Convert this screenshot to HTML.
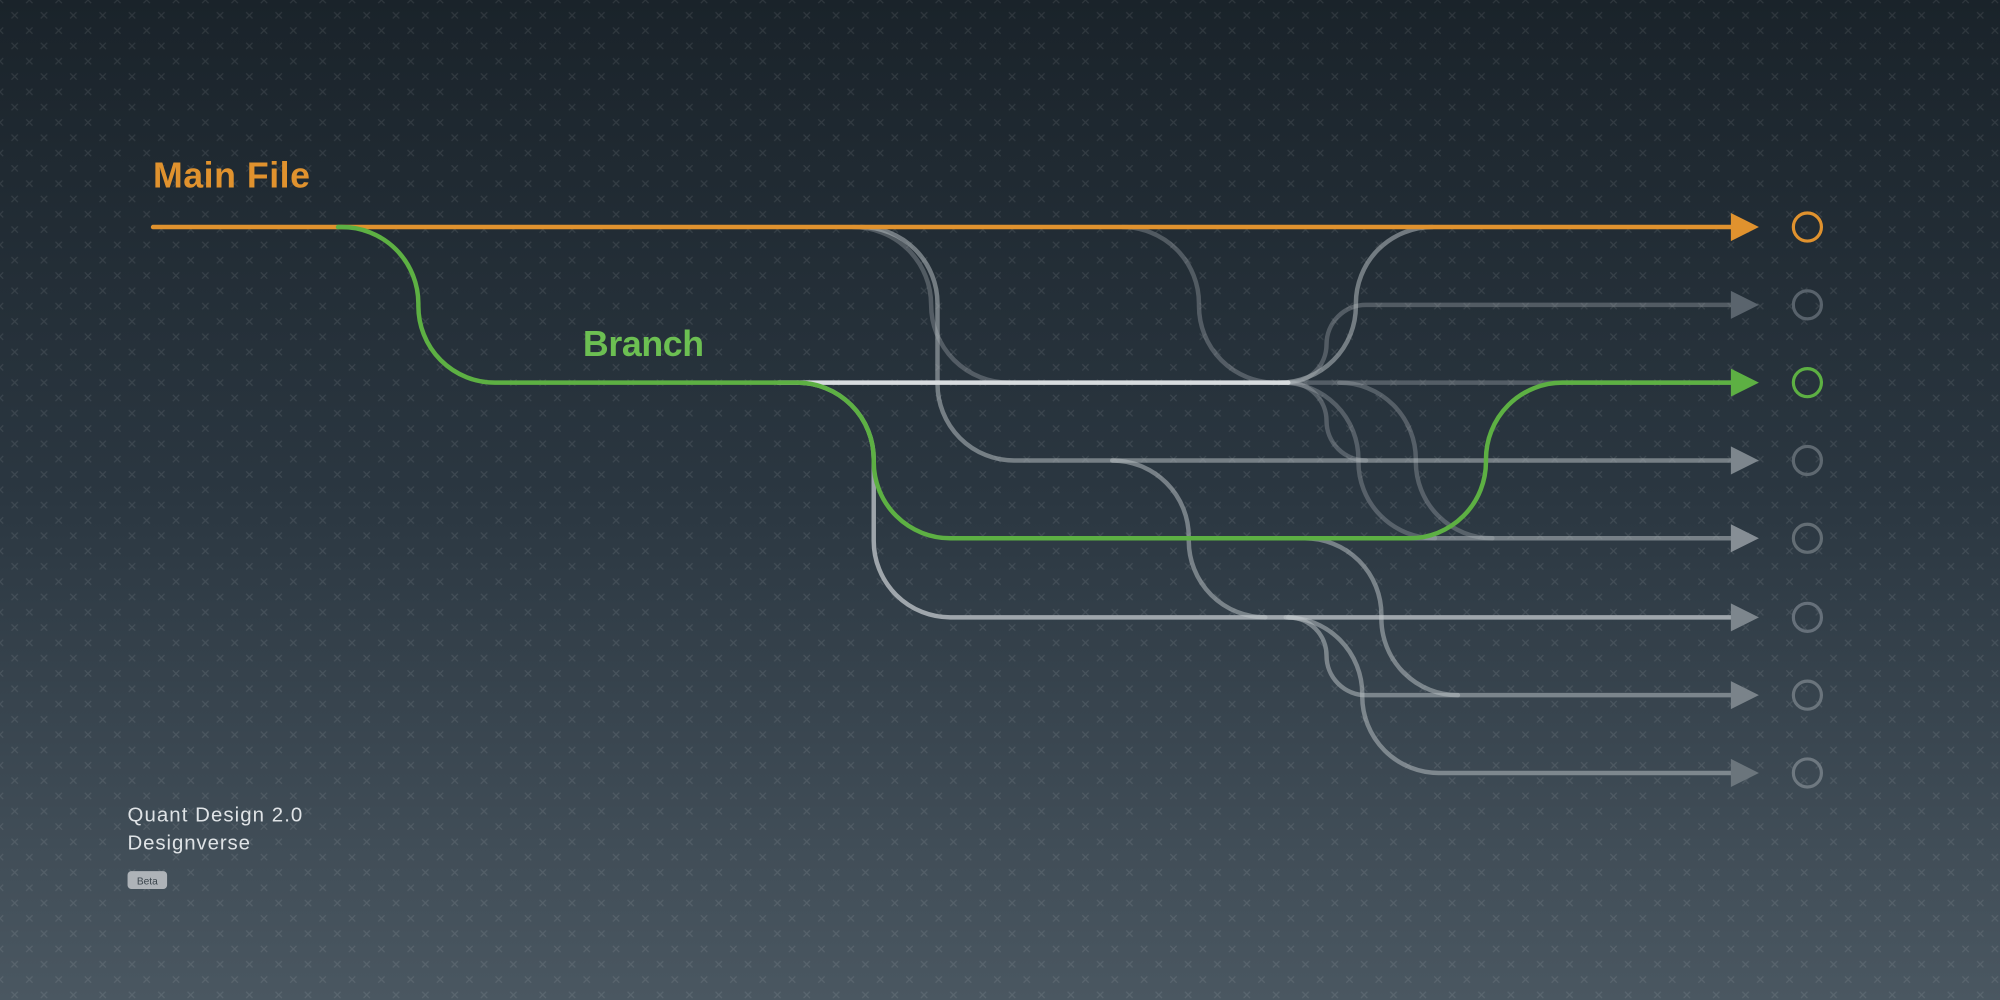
<!DOCTYPE html>
<html><head><meta charset="utf-8"><style>
html,body{margin:0;padding:0;width:2000px;height:1000px;overflow:hidden}
svg{display:block}
</style></head><body>
<svg width="2000" height="1000" viewBox="0 0 1568 784" xmlns="http://www.w3.org/2000/svg">
<defs>
<linearGradient id="bg" x1="0" y1="0" x2="0" y2="1">
<stop offset="0" stop-color="#1a232a"/><stop offset="0.5" stop-color="#2b3741"/><stop offset="1" stop-color="#4a5761"/>
</linearGradient>
<pattern id="px" width="23" height="24" patternUnits="userSpaceOnUse">
<g stroke="#ffffff" stroke-opacity="0.09" stroke-width="1">
<path d="M-2.5,-2.5 L2.5,2.5 M2.5,-2.5 L-2.5,2.5"/><path d="M9,9.5 L14,14.5 M14,9.5 L9,14.5"/>
<path d="M20.5,-2.5 L25.5,2.5 M25.5,-2.5 L20.5,2.5"/><path d="M-2.5,21.5 L2.5,26.5 M2.5,21.5 L-2.5,26.5"/><path d="M20.5,21.5 L25.5,26.5 M25.5,21.5 L20.5,26.5"/>
</g></pattern>
</defs>
<rect width="1568" height="784" fill="url(#bg)"/>
<rect width="1568" height="784" fill="url(#px)"/>
<g fill="none" stroke-width="3.5" stroke-linecap="round">
<g stroke="#aab0b5" stroke-opacity="0.35">
<path d="M669,178 A61 61 0 0 1 730,239 A61 61 0 0 0 791,300"/>
<path d="M880,178 A60 60 0 0 1 940,238 V240 A60 60 0 0 0 1000,300"/>
<path d="M1010,300 A30 30 0 0 0 1040,270 A31 31 0 0 1 1071,239 H1358"/>
<path d="M1010,300 L1358,300"/>
<path d="M1010,300 A30 30 0 0 1 1040,330 A31 31 0 0 0 1071,361"/>
<path d="M1005,300 A60 60 0 0 1 1065,360 V362 A60 60 0 0 0 1125,422"/>
<path d="M1050,300 A60 60 0 0 1 1110,360 V362 A60 60 0 0 0 1170,422"/>
</g>
<g stroke="#b5bbc0" stroke-opacity="0.55">
<path d="M675,178 A60 60 0 0 1 735,238 V301 A60 60 0 0 0 795,361 H1358"/>
<path d="M872,361 A60 60 0 0 1 932,421 V424 A60 60 0 0 0 992,484"/>
<path d="M1003,300 A60 60 0 0 0 1063,240 V238 A60 60 0 0 1 1123,178"/>
<path d="M1023,422 A60 60 0 0 1 1083,482 V485 A60 60 0 0 0 1143,545"/>
<path d="M1010,484 A30 30 0 0 1 1040,514 A31 31 0 0 0 1071,545 H1358"/>
<path d="M1008,484 A60 60 0 0 1 1068,544 V546 A60 60 0 0 0 1128,606 H1358"/>
<path d="M1100,422 L1358,422"/>
</g>
<path d="M625,300 A60 60 0 0 1 685,360 V424 A60 60 0 0 0 745,484 H1358" stroke="#c4c9cd" stroke-opacity="0.75"/>
<path d="M610,300 L1010,300" stroke="#d8dcdf"/>
<path d="M120,178 L1358,178" stroke="#e0922e"/>
<path d="M265,178 H268 A60 60 0 0 1 328,238 V240 A60 60 0 0 0 388,300 H625 A60 60 0 0 1 685,360 V362 A60 60 0 0 0 745,422 H1105 A60 60 0 0 0 1165,362 V360 A60 60 0 0 1 1225,300 H1358" stroke="#5db043"/>
</g>
<g>
<path d="M1357,167 L1379,178 L1357,189Z" fill="#e0922e"/>
<path d="M1357,228 L1379,239 L1357,250Z" fill="#5a646d"/>
<path d="M1357,289 L1379,300 L1357,311Z" fill="#5db043"/>
<path d="M1357,350 L1379,361 L1357,372Z" fill="#7d868d"/>
<path d="M1357,411 L1379,422 L1357,433Z" fill="#868e95"/>
<path d="M1357,473 L1379,484 L1357,495Z" fill="#7d868d"/>
<path d="M1357,534 L1379,545 L1357,556Z" fill="#7a838a"/>
<path d="M1357,595 L1379,606 L1357,617Z" fill="#6b757c"/>
</g>
<g fill="none" stroke-width="2.5">
<circle cx="1417" cy="178" r="11" stroke="#e0922e"/>
<circle cx="1417" cy="239" r="11" stroke="#58626b"/>
<circle cx="1417" cy="300" r="11" stroke="#5db043"/>
<circle cx="1417" cy="361" r="11" stroke="#5e6870"/>
<circle cx="1417" cy="422" r="11" stroke="#636d74"/>
<circle cx="1417" cy="484" r="11" stroke="#66707a"/>
<circle cx="1417" cy="545" r="11" stroke="#6a747c"/>
<circle cx="1417" cy="606" r="11" stroke="#6e7880"/>
</g>
<text x="120" y="147" font-family="Liberation Sans, sans-serif" font-size="28" font-weight="bold" fill="#e0922e" textLength="123">Main File</text>
<text x="457" y="279" font-family="Liberation Sans, sans-serif" font-size="28" font-weight="bold" fill="#6cbf52" textLength="95">Branch</text>
<text x="100" y="644" font-family="Liberation Sans, sans-serif" font-size="16" fill="#dfe3e6" textLength="137">Quant Design 2.0</text>
<text x="100" y="666" font-family="Liberation Sans, sans-serif" font-size="16" fill="#dfe3e6" textLength="96">Designverse</text>
<rect x="100" y="683" width="31" height="14" rx="3" fill="#aeb3b8"/>
<text x="115.5" y="693.5" text-anchor="middle" font-family="Liberation Sans, sans-serif" font-size="8" fill="#3a444c">Beta</text>
</svg>
</body></html>
